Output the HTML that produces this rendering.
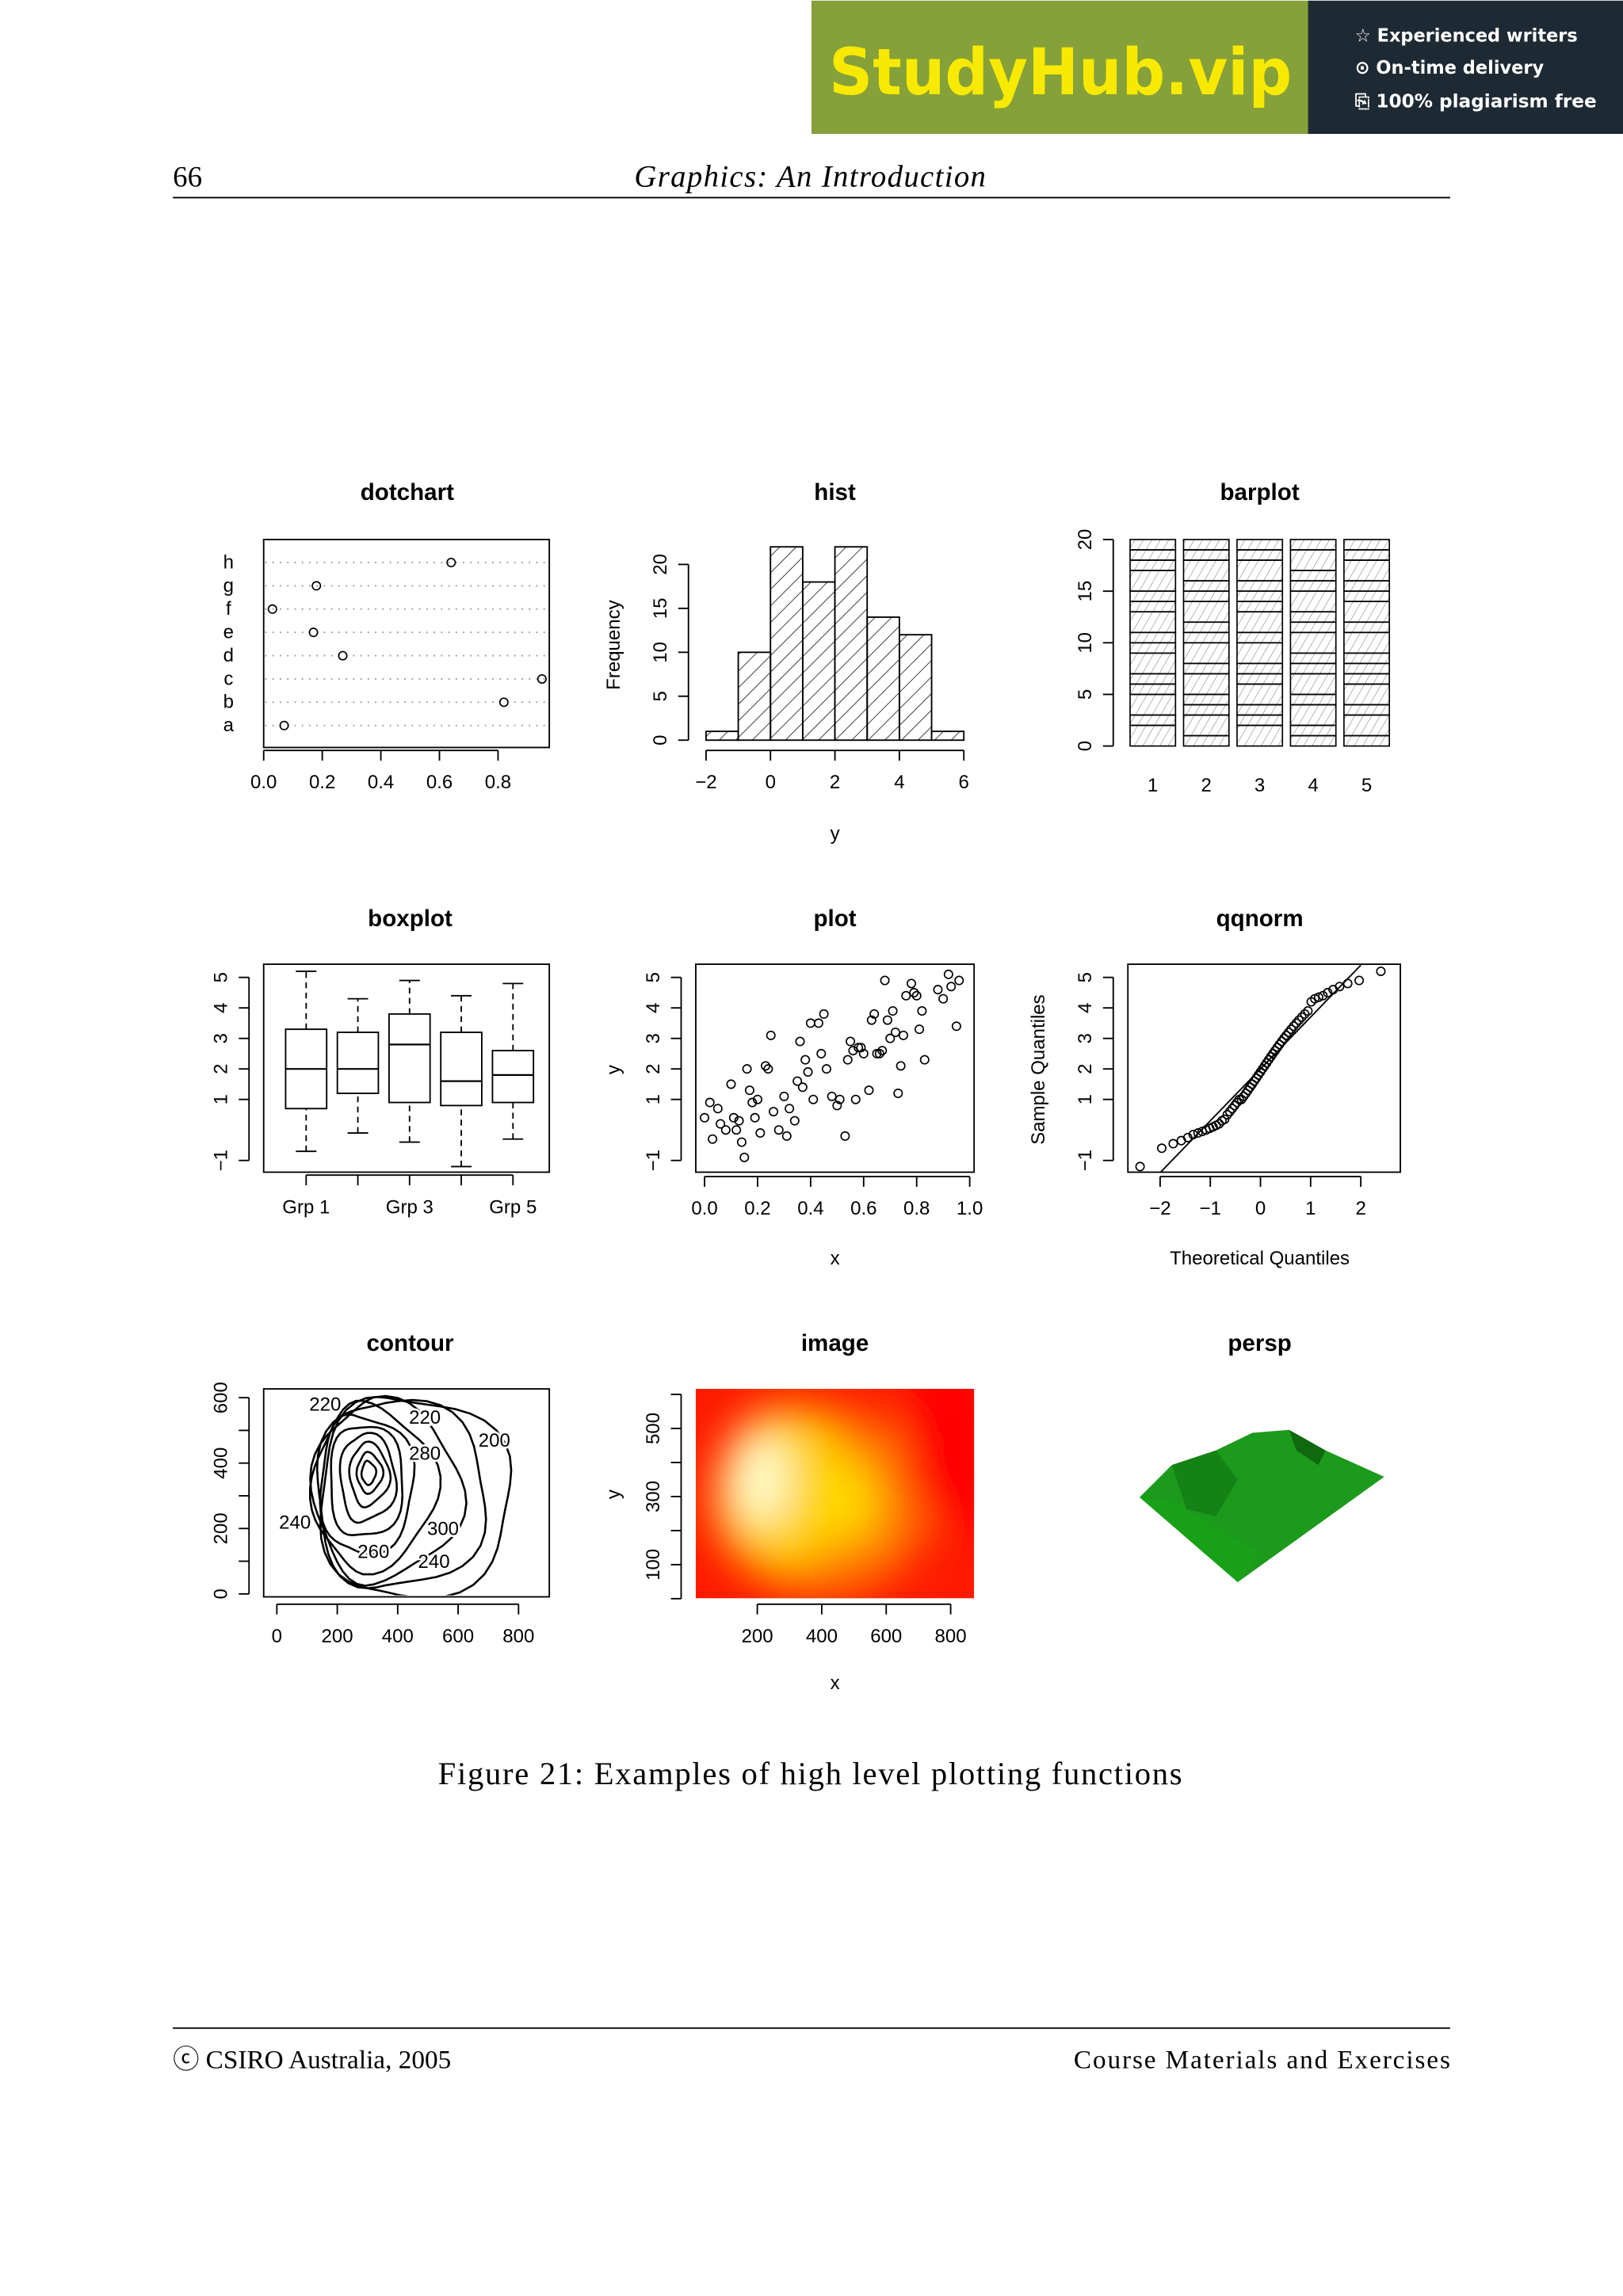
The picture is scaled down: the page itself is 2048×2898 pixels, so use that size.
<!DOCTYPE html>
<html><head><meta charset="utf-8">
<style>
html,body{margin:0;padding:0;background:#fff;}
svg{display:block;}
.t{font-family:"Liberation Sans",sans-serif;font-size:13px;fill:#000;}
.s{font-family:"Liberation Serif",serif;fill:#000;}
.ttl{font-family:"Liberation Sans",sans-serif;font-size:16px;font-weight:bold;fill:#000;}
</style></head>
<body>
<svg id="pg" width="2048" height="2898" viewBox="0 0 1108 1567" xmlns="http://www.w3.org/2000/svg">
<defs>
<pattern id="hatch" width="8" height="8" patternUnits="userSpaceOnUse" patternTransform="rotate(45)"><line x1="0" y1="0" x2="0" y2="8" stroke="#000" stroke-width="0.8"/></pattern>
<pattern id="hatch2" width="5" height="5" patternUnits="userSpaceOnUse" patternTransform="rotate(30)"><line x1="0" y1="0" x2="0" y2="5" stroke="#666" stroke-width="0.5"/></pattern>
<filter id="blur"><feGaussianBlur stdDeviation="14"/></filter>
<clipPath id="imgclip"><rect x="475" y="948" width="190" height="143"/></clipPath>
<clipPath id="conclip"><rect x="181" y="949" width="193" height="140"/></clipPath>
</defs>
<g>
<rect x="554" y="0" width="340" height="91" fill="#86a03a"/>
<rect x="893" y="0" width="215" height="91" fill="#1e2a33"/>
<text x="566" y="64" font-family="DejaVu Sans,sans-serif" font-size="44" font-weight="bold" fill="#f7ea00" textLength="316" lengthAdjust="spacingAndGlyphs">StudyHub.vip</text>
<text x="925" y="28" font-family="DejaVu Sans,sans-serif" font-size="12.5" font-weight="bold" fill="#fff" textLength="152" lengthAdjust="spacingAndGlyphs">☆ Experienced writers</text>
<text x="925" y="50" font-family="DejaVu Sans,sans-serif" font-size="12.5" font-weight="bold" fill="#fff" textLength="129" lengthAdjust="spacingAndGlyphs">⊙ On-time delivery</text>
<text x="925" y="73" font-family="DejaVu Sans,sans-serif" font-size="12.5" font-weight="bold" fill="#fff" textLength="165" lengthAdjust="spacingAndGlyphs">⎘ 100% plagiarism free</text>
</g>
<text class="s" x="118" y="127" font-size="20">66</text>
<text class="s" x="553" y="127" font-size="21" font-style="italic" text-anchor="middle" textLength="240">Graphics: An Introduction</text>
<line x1="118" y1="134.5" x2="990" y2="134.5" stroke="#000" stroke-width="1"/>
<g id="charts"></g>
<text class="s" x="553" y="1218" font-size="22" text-anchor="middle" textLength="508">Figure 21: Examples of high level plotting functions</text>
<line x1="118" y1="1384.5" x2="990" y2="1384.5" stroke="#000" stroke-width="1"/>
<text class="s" x="118" y="1412" font-size="18">ⓒ  CSIRO Australia, 2005</text>
<text class="s" x="148" y="1412" font-size="18" fill="none"> </text>
<text class="s" x="990" y="1412" font-size="18" text-anchor="end" textLength="257">Course Materials and Exercises</text>
</svg>
<script>
// ---- data ----
const dotLabels=['a','b','c','d','e','f','g','h'];
const dotValues=[0.07,0.82,0.95,0.27,0.17,0.03,0.18,0.64];
const histBreaks=[-2,-1,0,1,2,3,4,5,6];
const histCounts=[1,10,22,18,22,14,12,1];
const barCats=[1,2,3,4,5];
const barSegments=[[2,1,2,1,1,2,1,1,2,1,1,2,1,1,1],[1,2,1,1,2,1,2,1,1,2,1,1,2,1,1],[2,1,1,2,1,1,2,1,2,1,1,1,2,1,1],[1,1,2,1,2,1,1,2,1,1,2,1,1,2,1],[1,2,1,2,1,1,1,2,1,2,1,1,2,1,1]];
const boxNames=['Grp 1','Grp 2','Grp 3','Grp 4','Grp 5'];
const boxStats=[[-0.7,0.7,2.0,3.3,5.2],[-0.1,1.2,2.0,3.2,4.3],[-0.4,0.9,2.8,3.8,4.9],[-1.2,0.8,1.6,3.2,4.4],[-0.3,0.9,1.8,2.6,4.8]];
const scatX=[0.0,0.02,0.03,0.05,0.06,0.08,0.1,0.11,0.12,0.13,0.14,0.15,0.16,0.17,0.18,0.19,0.2,0.21,0.23,0.24,0.25,0.26,0.28,0.3,0.31,0.32,0.34,0.35,0.36,0.37,0.38,0.39,0.4,0.41,0.43,0.44,0.45,0.46,0.48,0.5,0.51,0.53,0.54,0.55,0.56,0.57,0.58,0.59,0.6,0.62,0.63,0.64,0.65,0.66,0.67,0.68,0.69,0.7,0.71,0.72,0.73,0.74,0.75,0.76,0.78,0.79,0.8,0.81,0.82,0.83,0.88,0.9,0.92,0.93,0.95,0.96];
const scatY=[0.4,0.9,-0.3,0.7,0.2,0.0,1.5,0.4,0.0,0.3,-0.4,-0.9,2.0,1.3,0.9,0.4,1.0,-0.1,2.1,2.0,3.1,0.6,0.0,1.1,-0.2,0.7,0.3,1.6,2.9,1.4,2.3,1.9,3.5,1.0,3.5,2.5,3.8,2.0,1.1,0.8,1.0,-0.2,2.3,2.9,2.6,1.0,2.7,2.7,2.5,1.3,3.6,3.8,2.5,2.5,2.6,4.9,3.6,3.0,3.9,3.2,1.2,2.1,3.1,4.4,4.8,4.5,4.4,3.3,3.9,2.3,4.6,4.3,5.1,4.7,3.4,4.9];
const qqSample=[-1.2,-0.6,-0.45,-0.35,-0.25,-0.15,-0.1,-0.05,0,0.05,0.1,0.15,0.2,0.3,0.35,0.5,0.6,0.7,0.8,0.9,1.0,1.0,1.1,1.2,1.3,1.4,1.5,1.6,1.7,1.8,1.9,2.0,2.1,2.2,2.3,2.4,2.5,2.6,2.7,2.8,2.9,3.0,3.1,3.2,3.3,3.4,3.5,3.6,3.7,3.8,3.9,4.2,4.3,4.35,4.4,4.5,4.6,4.7,4.8,4.9,5.2];
const qqLine=[2.0,1.7];
const contourLevels=[[300,370,25,35],[300,370,45,60],[295,365,70,95],[285,355,100,135],[275,345,135,175],[270,335,170,215],[285,325,220,250],[320,315,265,275],[360,305,310,295],[400,295,350,315]];
const contourLabelText=['220','220','200','280','300','240','260','240'];
const contourLabelX=[160,490,720,490,550,520,320,60];
const contourLabelY=[560,520,450,410,180,80,110,200];

// ---- helpers ----
const NS='http://www.w3.org/2000/svg';
const root=document.getElementById('charts');
function mk(tag,attrs,name,parent){
  const el=document.createElementNS(NS,tag);
  for(const k in attrs) el.setAttribute(k,attrs[k]);
  
  
  (parent||root).appendChild(el);
  return el;
}
function txt(x,y,s,name,cls,extra,parent){const e=mk('text',Object.assign({x:x,y:y,class:cls||'t','text-anchor':'middle'},extra||{}),name,parent);e.textContent=s;return e;}
function lin(a,b){return v=>a[0]+(v-b[0])*(a[1]-a[0])/(b[1]-b[0]);}
function axisX(sx,ticks,labels,y,g,name){
  mk('line',{x1:sx(ticks[0]),x2:sx(ticks[ticks.length-1]),y1:y,y2:y,stroke:'#000'},name+'-line',g);
  ticks.forEach((t,i)=>{mk('line',{x1:sx(t),x2:sx(t),y1:y,y2:y+7,stroke:'#000'},name+'-tick',g);
    if(labels[i]!=='') txt(sx(t),y+26,labels[i],name+'-label',null,null,g);});
}
function axisY(sy,ticks,labels,x,g,name){
  mk('line',{x1:x,x2:x,y1:sy(ticks[0]),y2:sy(ticks[ticks.length-1]),stroke:'#000'},name+'-line',g);
  ticks.forEach((t,i)=>{mk('line',{x1:x,x2:x-7,y1:sy(t),y2:sy(t),stroke:'#000'},name+'-tick',g);
    if(labels[i]!=='') txt(x-15,sy(t),labels[i],name+'-label',null,{transform:`rotate(-90 ${x-15} ${sy(t)})`},g);});
}
function box(x,y,w,h,g){mk('rect',{x:x,y:y,width:w,height:h,fill:'none',stroke:'#000'},'plot-frame',g);}
function pt(x,y,g,name){mk('circle',{cx:x,cy:y,r:2.8,fill:'none',stroke:'#000','stroke-width':0.9},name,g);}

// ---- dotchart ----
(function(){
  const g=mk('g',{},'dotchart-panel');
  txt(278,341,'dotchart','dotchart-title','ttl',null,g);
  box(180,368,195,142,g);
  const sx=lin([180,380],[0,1]);
  const sy=i=>495-i*15.9;
  dotLabels.forEach((l,i)=>{
    mk('line',{x1:181,x2:374,y1:sy(i),y2:sy(i),stroke:'#999','stroke-dasharray':'1 4'},'dotchart-guide',g);
    txt(156,sy(i)+4,l,'dotchart-row-label',null,null,g);
    pt(sx(dotValues[i]),sy(i),g,'dotchart-point');
  });
  axisX(sx,[0,0.2,0.4,0.6,0.8],['0.0','0.2','0.4','0.6','0.8'],512,g,'dotchart-x-axis');
})();
// ---- hist ----
(function(){
  const g=mk('g',{},'hist-panel');
  txt(570,341,'hist','hist-title','ttl',null,g);
  const sx=lin([482,658],[-2,6]);const sy=lin([505,385],[0,20]);
  histCounts.forEach((c,i)=>{
    const x0=sx(histBreaks[i]),x1=sx(histBreaks[i+1]);
    mk('rect',{x:x0,y:sy(c),width:x1-x0,height:sy(0)-sy(c),fill:'url(#hatch)',stroke:'#000'},'hist-bar',g);
  });
  axisX(sx,[-2,0,2,4,6],['−2','0','2','4','6'],512,g,'hist-x-axis');
  axisY(sy,[0,5,10,15,20],['0','5','10','15','20'],470,g,'hist-y-axis');
  txt(570,573,'y','hist-x-title',null,null,g);
  txt(423,440,'Frequency','hist-y-title',null,{transform:'rotate(-90 423 440)'},g);
})();
// ---- barplot ----
(function(){
  const g=mk('g',{},'barplot-panel');
  txt(860,341,'barplot','barplot-title','ttl',null,g);
  const sy=lin([509,368],[0,20]);const sx=c=>787+(c-1)*36.5;
  barCats.forEach((c,i)=>{
    let acc=0;
    barSegments[i].forEach(v=>{
      mk('rect',{x:sx(c)-15.5,y:sy(acc+v),width:31,height:sy(acc)-sy(acc+v),fill:'url(#hatch2)',stroke:'#000','stroke-width':0.9},'barplot-segment',g);
      acc+=v;});
    txt(sx(c),540,String(c),'barplot-x-label',null,null,g);
  });
  axisY(sy,[0,5,10,15,20],['0','5','10','15','20'],760,g,'barplot-y-axis');
})();
// ---- boxplot ----
(function(){
  const g=mk('g',{},'boxplot-panel');
  txt(280,632,'boxplot','boxplot-title','ttl',null,g);
  box(180,658,195,142,g);
  const sy=lin([792,667],[-1,5]);const sx=i=>209+i*35.3;
  boxStats.forEach((s,i)=>{
    const x=sx(i),w=14;
    mk('line',{x1:x,x2:x,y1:sy(s[0]),y2:sy(s[1]),stroke:'#000','stroke-dasharray':'4 3'},'boxplot-whisker',g);
    mk('line',{x1:x,x2:x,y1:sy(s[3]),y2:sy(s[4]),stroke:'#000','stroke-dasharray':'4 3'},'boxplot-whisker',g);
    mk('line',{x1:x-7,x2:x+7,y1:sy(s[0]),y2:sy(s[0]),stroke:'#000'},'boxplot-cap',g);
    mk('line',{x1:x-7,x2:x+7,y1:sy(s[4]),y2:sy(s[4]),stroke:'#000'},'boxplot-cap',g);
    mk('rect',{x:x-w,y:sy(s[3]),width:2*w,height:sy(s[1])-sy(s[3]),fill:'#fff',stroke:'#000'},'boxplot-box',g);
    mk('line',{x1:x-w,x2:x+w,y1:sy(s[2]),y2:sy(s[2]),stroke:'#000','stroke-width':1.2},'boxplot-median',g);
  });
  axisX(sx,[0,1,2,3,4],['Grp 1','','Grp 3','','Grp 5'],802,g,'boxplot-x-axis');
  axisY(sy,[-1,1,2,3,4,5],['−1','1','2','3','4','5'],170,g,'boxplot-y-axis');
})();
// ---- scatter plot ----
(function(){
  const g=mk('g',{},'plot-panel');
  txt(570,632,'plot','plot-title','ttl',null,g);
  box(475,658,190,142,g);
  const sx=lin([481,662],[0,1]);const sy=lin([792,667],[-1,5]);
  scatX.forEach((x,i)=>pt(sx(x),sy(scatY[i]),g,'plot-point'));
  axisX(sx,[0,0.2,0.4,0.6,0.8,1],['0.0','0.2','0.4','0.6','0.8','1.0'],803,g,'plot-x-axis');
  axisY(sy,[-1,1,2,3,4,5],['−1','1','2','3','4','5'],465,g,'plot-y-axis');
  txt(570,863,'x','plot-x-title',null,null,g);
  txt(423,730,'y','plot-y-title',null,{transform:'rotate(-90 423 730)'},g);
})();
// ---- qqnorm ----
(function(){
  const g=mk('g',{},'qqnorm-panel');
  txt(860,632,'qqnorm','qqnorm-title','ttl',null,g);
  box(770,658,186,142,g);
  const sx=lin([792,929],[-2,2]);const sy=lin([792,667],[-1,5]);
  function qn(p){const a=[-39.6968302866538,220.946098424521,-275.928510446969,138.357751867269,-30.6647980661472,2.50662827745924],b=[-54.4760987982241,161.585836858041,-155.698979859887,66.8013118877197,-13.2806815528857],c=[-0.00778489400243029,-0.322396458041136,-2.40075827716184,-2.54973253934373,4.37466414146497,2.93816398269878],d=[0.00778469570904146,0.32246712907004,2.445134137143,3.75440866190742];
    if(p<0.02425){const q=Math.sqrt(-2*Math.log(p));return (((((c[0]*q+c[1])*q+c[2])*q+c[3])*q+c[4])*q+c[5])/((((d[0]*q+d[1])*q+d[2])*q+d[3])*q+1);}
    if(p>1-0.02425){return -qn(1-p);}
    const q=p-0.5,r=q*q;return (((((a[0]*r+a[1])*r+a[2])*r+a[3])*r+a[4])*r+a[5])*q/(((((b[0]*r+b[1])*r+b[2])*r+b[3])*r+b[4])*r+1);}
  const n=qqSample.length;
  qqSample.forEach((v,i)=>pt(sx(qn((i+0.5)/n)),sy(v),g,'qqnorm-point'));
  const ic=qqLine[0],slope=qqLine[1];
  const xl=(-1.38-ic)/slope,xr=(5.4-ic)/slope;
  mk('line',{x1:sx(xl),y1:sy(-1.38),x2:sx(xr),y2:sy(5.4),stroke:'#000'},'qqnorm-reference-line',g);
  axisX(sx,[-2,-1,0,1,2],['−2','−1','0','1','2'],803,g,'qqnorm-x-axis');
  axisY(sy,[-1,1,2,3,4,5],['−1','1','2','3','4','5'],760,g,'qqnorm-y-axis');
  txt(860,863,'Theoretical Quantiles','qqnorm-x-title',null,null,g);
  txt(713,730,'Sample Quantiles','qqnorm-y-title',null,{transform:'rotate(-90 713 730)'},g);
})();
// ---- contour ----
(function(){
  const g=mk('g',{},'contour-panel');
  txt(280,922,'contour','contour-title','ttl',null,g);
  box(180,948,195,142,g);
  const sx=lin([189,354],[0,800]);const sy=lin([1088,954],[0,600]);
  const cg=mk('g',{'clip-path':'url(#conclip)'},'contour-lines',g);
  contourLevels.forEach(l=>{
    const cx=l[0],cy=l[1],rx=l[2],ry=l[3];let d='';
    for(let k=0;k<=48;k++){const a=k/48*Math.PI*2;const w=1+0.07*Math.sin(a*4+rx/30);
      const f=(Math.cos(a)<0)?0.75:1.1;
      const px=sx(cx+rx*w*Math.cos(a)*f),py=sy(cy+ry*w*Math.sin(a));d+=(k?'L':'M')+px.toFixed(1)+' '+py.toFixed(1);}
    mk('path',{d:d,fill:'none',stroke:'#000','stroke-width':1.4},'contour-line',cg);
  });
  contourLabelText.forEach((s,i)=>txt(sx(contourLabelX[i]),sy(contourLabelY[i]),s,'contour-label',null,{fill:'#777','font-size':'14',stroke:'#fff','stroke-width':3,'paint-order':'stroke'},g));
  axisX(sx,[0,200,400,600,800],['0','200','400','600','800'],1095,g,'contour-x-axis');
  axisY(sy,[0,100,200,300,400,500,600],['0','','200','','400','','600'],170,g,'contour-y-axis');
})();
// ---- image ----
(function(){
  const g=mk('g',{},'image-panel');
  txt(570,922,'image','image-title','ttl',null,g);
  const ig=mk('g',{'clip-path':'url(#imgclip)'},'image-heatmap',g);
  mk('rect',{x:475,y:948,width:190,height:143,fill:'#ff1a00'},'image-background',ig);
  const bg=mk('g',{filter:'url(#blur)'},'image-blobs',ig);
  mk('ellipse',{cx:560,cy:1025,rx:75,ry:65,fill:'#ff7a00'},'image-blob',bg);
  mk('ellipse',{cx:535,cy:1015,rx:45,ry:55,fill:'#ffd000'},'image-blob',bg);
  mk('ellipse',{cx:578,cy:1025,rx:22,ry:28,fill:'#ffd800'},'image-blob',bg);
  mk('ellipse',{cx:520,cy:1010,rx:18,ry:30,fill:'#ffffd0'},'image-blob',bg);
  mk('ellipse',{cx:650,cy:985,rx:35,ry:60,fill:'#ff0000'},'image-blob',bg);
  const sx=lin([517,649],[200,800]);const sy=lin([1068,975],[100,500]);
  axisX(sx,[200,400,600,800],['200','400','600','800'],1095,g,'image-x-axis');
  axisY(sy,[0,100,200,300,400,500,600],['','100','','300','','500',''],465,g,'image-y-axis');
  txt(570,1153,'x','image-x-title',null,null,g);
  txt(423,1020,'y','image-y-title',null,{transform:'rotate(-90 423 1020)'},g);
})();
// ---- persp ----
(function(){
  const g=mk('g',{},'persp-panel');
  txt(860,922,'persp','persp-title','ttl',null,g);
  mk('polygon',{points:'778,1022 800,1000 830,990 855,978 880,976 905,990 945,1008 845,1080',fill:'#1c9a1c'},'persp-surface',g);
  mk('polygon',{points:'800,1000 830,990 845,1010 830,1035 810,1030',fill:'#137813',opacity:0.7},'persp-shade',g);
  mk('polygon',{points:'880,976 905,990 900,1000 885,990',fill:'#0d5c0d',opacity:0.8},'persp-shade',g);
  mk('polygon',{points:'778,1022 845,1080 860,1060 800,1025',fill:'#18a018'},'persp-shade',g);
})();
</script>
</body></html>
